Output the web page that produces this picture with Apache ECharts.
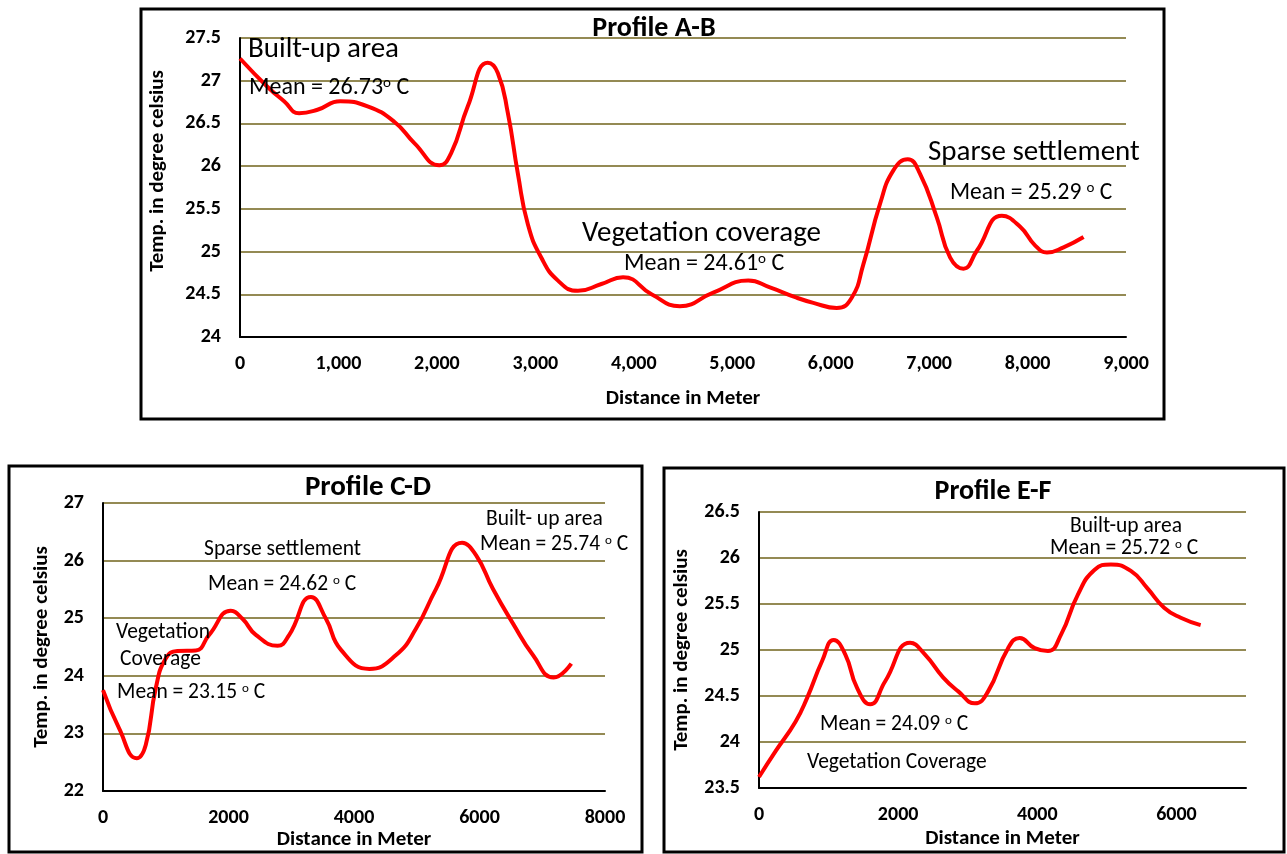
<!DOCTYPE html>
<html><head><meta charset="utf-8">
<script src="https://cdn.jsdelivr.net/npm/echarts@6.0.0/dist/echarts.min.js"></script>
<style>html,body{margin:0;padding:0;background:#fff}#c{width:1287px;height:854px}</style>
</head><body><div id="c"></div>
<script>
// Profile A-B (distance in m, temperature in deg C)
const abDist = [0, 278, 448, 600, 787, 1018, 1296, 1567, 1771, 2025, 2144, 2314, 2517, 2619, 2721, 2823, 2924, 3060, 3230, 3433, 3671, 3891, 4180, 4468, 4807, 5163, 5383, 5654, 5824, 6061, 6214, 6332, 6502, 6637, 6783, 6908, 7078, 7214, 7349, 7485, 7739, 7925, 8078, 8197, 8366, 8569];
const abTemp = [27.26, 26.93, 26.76, 26.62, 26.66, 26.76, 26.70, 26.52, 26.27, 26.01, 26.15, 26.70, 27.21, 27.09, 26.62, 25.91, 25.32, 24.93, 24.66, 24.54, 24.62, 24.70, 24.50, 24.36, 24.52, 24.66, 24.58, 24.46, 24.40, 24.34, 24.46, 24.85, 25.56, 25.95, 26.08, 25.91, 25.40, 24.93, 24.80, 25.01, 25.42, 25.29, 25.07, 24.99, 25.05, 25.17];
// Profile C-D
const cdDist = [0, 255, 537, 681, 840, 1000, 1186, 1479, 1691, 2037, 2223, 2436, 2782, 2968, 3314, 3553, 3793, 4245, 4670, 4989, 5308, 5723, 5947, 6213, 6532, 6851, 7181, 7463];
const cdTemp = [23.75, 23.09, 22.57, 22.80, 23.78, 24.30, 24.43, 24.44, 24.71, 25.13, 24.99, 24.71, 24.52, 24.71, 25.37, 24.99, 24.45, 24.12, 24.36, 24.82, 25.51, 26.31, 26.09, 25.51, 24.91, 24.36, 23.97, 24.21];
// Profile E-F
const efDist = [0, 239, 525, 692, 907, 1074, 1241, 1408, 1599, 1814, 2172, 2387, 2649, 2864, 3103, 3293, 3580, 3747, 3962, 4153, 4343, 4582, 4821, 5059, 5345, 5584, 5823, 6062, 6348];
const efTemp = [23.62, 23.90, 24.22, 24.48, 24.88, 25.11, 24.95, 24.59, 24.41, 24.66, 25.08, 24.95, 24.70, 24.55, 24.42, 24.55, 25.02, 25.13, 25.02, 24.99, 25.17, 25.60, 25.87, 25.93, 25.86, 25.67, 25.46, 25.35, 25.27];

const titles = ['Profile A-B', 'Profile C-D', 'Profile E-F'];
const xName = 'Distance in Meter';
const yName = 'Temp. in degree celsius';

const FONT = 'Carlito, Lato, sans-serif';
const GRIDC = '#948A54';

function pairs(xs, ys) { return xs.map((d, i) => [d, ys[i]]); }

function xAx(gi, max, interval, fmt, gap) {
  return {
    gridIndex: gi, type: 'value', min: 0, max: max, interval: interval,
    name: xName, nameLocation: 'middle', nameGap: gap,
    nameTextStyle: { fontFamily: FONT, fontWeight: 'bold', fontSize: 21, color: '#000' },
    axisLine: { show: true, onZero: false, lineStyle: { color: '#000', width: 2 } },
    axisTick: { show: false }, splitLine: { show: false },
    axisLabel: { margin: 17, fontFamily: FONT, fontWeight: 'bold', fontSize: 20, color: '#000', formatter: fmt, showMaxLabel: true }
  };
}
function yAx(gi, min, max, interval, gap, showName) {
  return {
    gridIndex: gi, type: 'value', min: min, max: max, interval: interval,
    name: showName ? yName : '', nameLocation: 'middle', nameGap: gap, nameRotate: 90,
    nameTextStyle: { fontFamily: FONT, fontWeight: 'bold', fontSize: 21, color: '#000' },
    axisLine: { show: true, onZero: false, lineStyle: { color: '#000', width: 2 } },
    axisTick: { show: false },
    splitLine: { show: true, lineStyle: { color: GRIDC, width: 2 } },
    axisLabel: { margin: 19, fontFamily: FONT, fontWeight: 'bold', fontSize: 20, color: '#000' }
  };
}
function lineS(gi, data) {
  return { type: 'line', xAxisIndex: gi, yAxisIndex: gi, data: data, smooth: 0.5, showSymbol: false,
    lineStyle: { color: '#FF0000', width: 4 }, z: 5 };
}
function txt(x, y, text, size, opts) {
  opts = opts || {};
  return { type: 'text', x: x, y: y, z: 20, rotation: opts.rotation || 0, style: {
    text: text, fill: '#000', font: (opts.bold ? 'bold ' : '') + size + 'px ' + FONT,
    align: opts.align || 'left', verticalAlign: 'middle' } };
}
function meanTxt(x, y, before, after, size) {
  return { type: 'text', x: x, y: y, z: 20, style: {
    text: '{n|' + before + '}{s|o}{n|' + after + '}',
    align: 'left', verticalAlign: 'middle',
    rich: {
      n: { fontFamily: FONT, fontSize: size, fill: '#000', color: '#000' },
      s: { fontFamily: FONT, fontSize: Math.round(size * 0.62), fill: '#000', color: '#000', verticalAlign: 'top' }
    } } };
}
function box(x, y, w, h) {
  return { type: 'rect', shape: { x: x, y: y, width: w, height: h }, z: 1,
    style: { fill: 'none', stroke: '#000', lineWidth: 3 } };
}

const chart = echarts.init(document.getElementById('c'), null, { renderer: 'canvas' });
const xa2 = xAx(2, 7000, 2000, v => (v > 6000 ? '' : String(v)), 40);
xa2.axisLabel.showMaxLabel = false;
chart.setOption({
  animation: false,
  backgroundColor: '#fff',
  grid: [
    { left: 240, top: 38, width: 886, height: 299, outerBoundsMode: 'none' },
    { left: 103, top: 503, width: 502, height: 288, outerBoundsMode: 'none' },
    { left: 759, top: 512, width: 487, height: 276, outerBoundsMode: 'none' }
  ],
  xAxis: [
    xAx(0, 9000, 1000, v => v.toLocaleString('en-US'), 51),
    xAx(1, 8000, 2000, v => String(v), 37),
    xa2
  ],
  yAxis: [
    yAx(0, 24, 27.5, 0.5, 72, false),
    yAx(1, 22, 27, 1, 51, true),
    yAx(2, 23.5, 26.5, 0.5, 67, true)
  ],
  series: [
    lineS(0, pairs(abDist, abTemp)),
    lineS(1, pairs(cdDist, cdTemp)),
    lineS(2, pairs(efDist, efTemp))
  ],
  graphic: [
    box(141, 9, 1023, 410),
    box(9, 466, 633, 386),
    box(664, 468, 620, 384),
    txt(158, 171, yName, 21, { bold: true, align: 'center', rotation: Math.PI / 2 }),
    txt(654, 29, titles[0], 28, { bold: true, align: 'center' }),
    txt(368, 488, titles[1], 29, { bold: true, align: 'center' }),
    txt(993, 492, titles[2], 28, { bold: true, align: 'center' }),
    // A-B annotations
    txt(248, 50, 'Built-up area', 29),
    meanTxt(249, 88, 'Mean = 26.73', ' C', 24),
    txt(582, 234, 'Vegetation coverage', 29),
    meanTxt(624, 264, 'Mean = 24.61', ' C', 24),
    txt(928, 153, 'Sparse settlement', 29),
    meanTxt(950, 193, 'Mean = 25.29 ', ' C', 23.5),
    // C-D annotations
    txt(204, 550, 'Sparse settlement', 21.5),
    meanTxt(208, 585, 'Mean = 24.62 ', ' C', 21.5),
    txt(116, 633, 'Vegetation', 21.5),
    txt(120, 660, 'Coverage', 21.5),
    meanTxt(117, 693, 'Mean = 23.15 ', ' C', 21.5),
    txt(486, 520, 'Built- up area', 21.5),
    meanTxt(480, 545, 'Mean = 25.74 ', ' C', 21.5),
    // E-F annotations
    txt(1126, 527, 'Built-up area', 21.5, { align: 'center' }),
    meanTxt(1050, 549, 'Mean = 25.72 ', ' C', 21.5),
    meanTxt(820, 725, 'Mean = 24.09 ', ' C', 21.5),
    txt(807, 763, 'Vegetation Coverage', 21.5)
  ]
});
</script></body></html>
